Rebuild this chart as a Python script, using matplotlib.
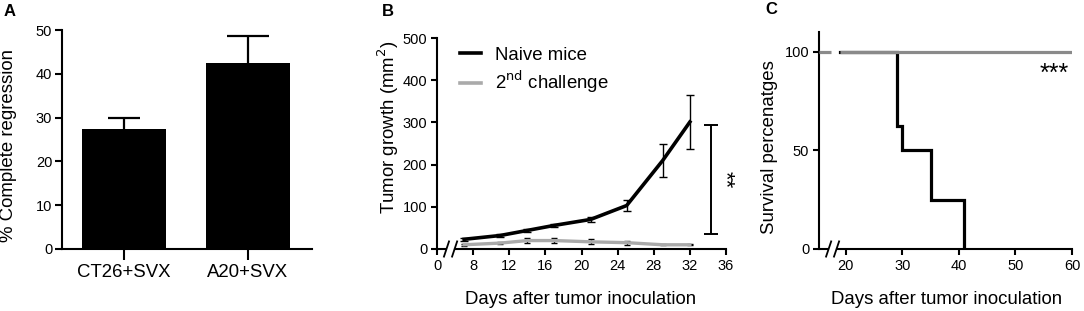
import matplotlib
matplotlib.use("Agg")
import matplotlib.pyplot as plt
from matplotlib.lines import Line2D
import numpy as np

plt.rcParams['font.family'] = ['Liberation Sans', 'DejaVu Sans']

# ---- Data ----
# Panel A
a_categories = ["CT26+SVX", "A20+SVX"]
a_values = [27.5, 42.5]
a_err_upper = [2.5, 6.2]

# Panel B
b_days = [7, 11, 14, 17, 21, 25, 29, 32]
b_naive = [23, 32, 44, 56, 70, 103, 210, 301]
b_naive_err = [3, 3, 4, 4, 7, 14, 39, 64]
b_second = [10, 14, 20, 20, 17, 15, 10, 10]
b_second_err = [2, 2, 5, 6, 6, 5, 1, 1]
b_xticks = [4, 8, 12, 16, 20, 24, 28, 32, 36]
b_xticklabels = ["0", "8", "12", "16", "20", "24", "28", "32", "36"]
b_sig_range = [35, 295]

# Panel C
c_naive_days = [19.0, 29, 29, 30, 30, 35, 35, 41, 41]
c_naive_surv = [100, 100, 62.5, 62.5, 50, 50, 25, 25, 0]
c_second_days_a = [15.3, 17.5]
c_second_days_b = [19.0, 60]
c_second_surv = [100, 100]

W, H = 1084, 311
fig = plt.figure(figsize=(W / 100, H / 100), dpi=100)

def ax_px(l, r, t, b):
    return fig.add_axes([l / W, 1 - b / H, (r - l) / W, (b - t) / H])

SPW = 1.5
TICK_FS = 10.5
LAB_FS = 13.4

# ---------------- Panel A ----------------
axA = ax_px(62, 312, 30, 249)
x = np.arange(len(a_categories))
axA.bar(x, a_values, width=0.67, color='black', zorder=2)
caps = [11.2, 15]
for i in range(len(x)):
    # lower part hidden inside the bar, only the upper whisker shows
    axA.errorbar(x[i], a_values[i], yerr=[[1.5], [a_err_upper[i]]], fmt='none',
                 ecolor='black', elinewidth=1.6, capsize=caps[i], capthick=1.6, zorder=1)
axA.set_xlim(-0.5, 1.516)
axA.set_ylim(0, 50)
axA.set_yticks([0, 10, 20, 30, 40, 50])
axA.set_xticks(x)
axA.set_xticklabels(a_categories, fontsize=LAB_FS)
axA.tick_params(axis='y', labelsize=TICK_FS, length=5, width=SPW, pad=2)
axA.tick_params(axis='x', length=8, width=SPW, pad=3)
for s in ['top', 'right']:
    axA.spines[s].set_visible(False)
for s in ['left', 'bottom']:
    axA.spines[s].set_linewidth(SPW)
fig.text(9 / W, 1 - 145 / H, "% Complete regression", rotation=90,
         ha='center', va='center', fontsize=LAB_FS)
fig.text(4 / W, 1 - 12 / H, "A", fontsize=12, fontweight='bold', ha='left', va='center')

# ---------------- Panel B ----------------
axB = ax_px(437, 726, 38, 249)
axB.set_xlim(4, 36)
axB.set_ylim(0, 500)
axB.errorbar(b_days, b_second, yerr=b_second_err, color='#aaaaaa', lw=2.4,
             ecolor='black', elinewidth=1.0, capsize=2.5, capthick=1.0, zorder=2)
axB.errorbar(b_days, b_naive, yerr=b_naive_err, color='black', lw=2.6,
             ecolor='black', elinewidth=1.0, capsize=3, capthick=1.0, zorder=3)
# significance bar
mid = np.mean(b_sig_range)
axB.errorbar([34.3], [mid], yerr=[[mid - b_sig_range[0]], [b_sig_range[1] - mid]],
             fmt='none', ecolor='black', elinewidth=1.4, capsize=5, capthick=1.4,
             clip_on=False)
axB.text(35.9, mid, "**", rotation=-90, fontsize=16, ha='center', va='center')
axB.set_xticks(b_xticks)
axB.set_xticklabels(b_xticklabels)
axB.set_yticks([0, 100, 200, 300, 400, 500])
axB.tick_params(axis='both', labelsize=TICK_FS, length=4, width=SPW, pad=3)
for s in ['top', 'right']:
    axB.spines[s].set_visible(False)
for s in ['left', 'bottom']:
    axB.spines[s].set_linewidth(SPW)
axB.spines['bottom'].set_bounds(5.95, 36)
tB = axB.get_xaxis_transform()
axB.plot([4, 5.05], [0, 0], color='black', lw=SPW, transform=tB, clip_on=False,
         solid_capstyle='butt')
for xc in [5.05, 5.95]:
    axB.plot([xc - 0.28, xc + 0.28], [-0.036, 0.036], color='black', lw=1.3,
             transform=tB, clip_on=False)
handles = [Line2D([], [], color='black', lw=2.6),
           Line2D([], [], color='#aaaaaa', lw=2.6)]
labels = ['Naive mice', '2$^{\\mathrm{nd}}$ challenge']
axB.legend(handles, labels, loc='upper left', bbox_to_anchor=(0.055, 0.995),
           frameon=False, fontsize=LAB_FS, handlelength=1.1, handletextpad=0.75,
           labelspacing=0.3, borderaxespad=0)
fig.text(388 / W, 1 - 127 / H, "Tumor growth (mm$^{2}$)", rotation=90,
         ha='center', va='center', fontsize=LAB_FS)
fig.text(581 / W, 1 - 299 / H, "Days after tumor inoculation",
         ha='center', va='center', fontsize=LAB_FS)
fig.text(382 / W, 1 - 12 / H, "B", fontsize=12, fontweight='bold', ha='left', va='center')

# ---------------- Panel C ----------------
axC = ax_px(819, 1072, 32, 249)
axC.set_xlim(15.3, 60)
axC.set_ylim(0, 110)
axC.plot(c_naive_days, c_naive_surv, color='black', lw=2.3, zorder=2,
         solid_joinstyle='miter')
axC.plot(c_second_days_a, c_second_surv, color='#8a8a8a', lw=2.3, zorder=3,
         solid_capstyle='butt')
axC.plot(c_second_days_b, c_second_surv, color='#8a8a8a', lw=2.3, zorder=3,
         solid_capstyle='butt')
axC.text(56.8, 89, "***", fontsize=18, ha='center', va='center')
axC.set_xticks([20, 30, 40, 50, 60])
axC.set_yticks([0, 50, 100])
axC.tick_params(axis='both', labelsize=TICK_FS, length=4, width=SPW, pad=3)
for s in ['top', 'right']:
    axC.spines[s].set_visible(False)
for s in ['left', 'bottom']:
    axC.spines[s].set_linewidth(SPW)
axC.spines['bottom'].set_bounds(18.4, 60)
tC = axC.get_xaxis_transform()
axC.plot([15.3, 17.0], [0, 0], color='black', lw=SPW, transform=tC, clip_on=False,
         solid_capstyle='butt')
for xc in [17.0, 18.4]:
    axC.plot([xc - 0.45, xc + 0.45], [-0.035, 0.035], color='black', lw=1.3,
             transform=tC, clip_on=False)
fig.text(770 / W, 1 - 147 / H, "Survival percenatges", rotation=90,
         ha='center', va='center', fontsize=LAB_FS)
fig.text(947 / W, 1 - 299 / H, "Days after tumor inoculation",
         ha='center', va='center', fontsize=LAB_FS)
fig.text(765 / W, 1 - 10 / H, "C", fontsize=12, fontweight='bold', ha='left', va='center')

fig.savefig("out.png", dpi=100)
